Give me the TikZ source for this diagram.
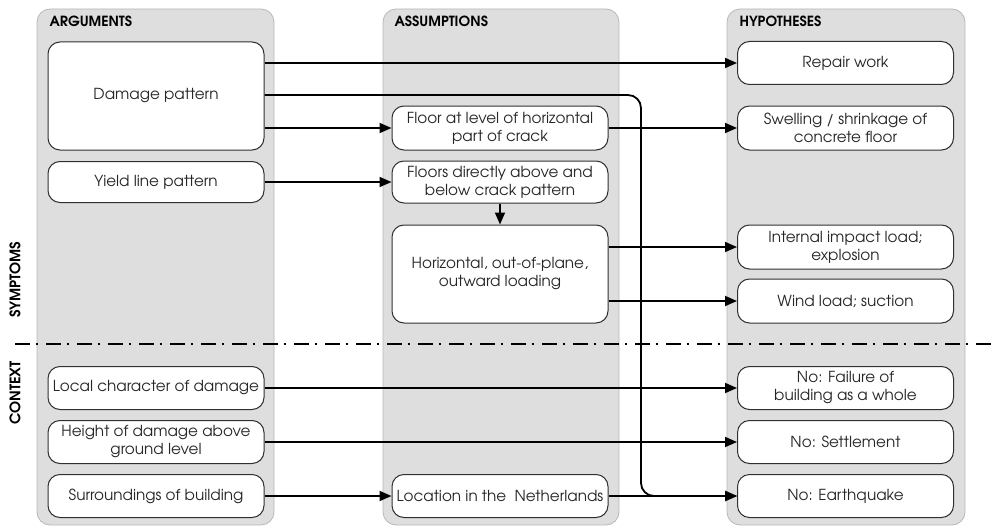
\documentclass[tikz,border=0pt]{standalone}
\usepackage{fontspec}
\setmainfont{TeX Gyre Adventor}
\usetikzlibrary{arrows.meta}
\definecolor{panelfill}{HTML}{DEDEDE}
\definecolor{panelline}{HTML}{B8B8B8}
\definecolor{boxline}{HTML}{303030}
\definecolor{txt}{HTML}{262626}
\begin{document}
\begin{tikzpicture}[x=1pt,y=-1pt,
  panel/.style={draw=panelline, fill=panelfill, rounded corners=13pt, line width=0.8pt},
  box/.style={draw=boxline, fill=white, rounded corners=12pt, line width=1pt,
    align=center, inner sep=2pt, text=txt, minimum width=216pt,
    font=\fontsize{15.2}{18}\selectfont},
  title/.style={anchor=west, font=\bfseries\fontsize{14}{16}\selectfont},
  side/.style={rotate=90, font=\bfseries\fontsize{14.5}{16}\selectfont},
  link/.style={line width=1.8pt, -{Triangle[length=12pt,width=10pt]}},
  sep/.style={line width=1.6pt, dash pattern=on 15pt off 5.5pt on 2.5pt off 8pt},
]
\useasboundingbox (0,0) rectangle (991,527);

% column panels
\draw[panel] (37,9) rectangle (274,525);
\draw[panel] (383,9) rectangle (619,525);
\draw[panel] (727,9) rectangle (965,525);
\node[title] (targ) at (46,21) {ARGUMENTS};
\node[title] (tass) at (391,21) {ASSUMPTIONS};
\node[title] (thyp) at (736,21) {HYPOTHESES};

% row labels and separator
\node[side] (symp) at (15,280) {SYMPTOMS};
\node[side] (ctx) at (15,393) {CONTEXT};
\coordinate (sepl) at (15,344);
\coordinate (sepr) at (991,344);
\draw[sep] (sepl) -- (sepr);

% arguments
\node[box, minimum height=108pt] (damage) at (156,96) {Damage pattern};
\node[box, minimum height=41pt] (yield) at (156,182) {Yield line pattern};
\node[box, minimum height=43pt] (local) at (156,388) {Local character of damage};
\node[box, minimum height=43pt] (height) at (156,442) {Height of damage above\\ground level};
\node[box, minimum height=43pt] (surr) at (156,496) {Surroundings of building};

% assumptions
\node[box, minimum height=44pt] (floorlvl) at (500,128) {Floor at level of horizontal\\part of crack};
\node[box, minimum height=42pt] (floorsdir) at (500,182) {Floors directly above and\\below crack pattern};
\node[box, minimum height=98pt] (horiz) at (500,274) {Horizontal, out-of-plane,\\outward loading};
\node[box, minimum height=43pt] (location) at (500,496) {Location in the~ Netherlands};

% hypotheses
\node[box, minimum height=43pt] (repair) at (845.5,63) {Repair work};
\node[box, minimum height=44pt] (swelling) at (845.5,128) {Swelling / shrinkage of\\concrete floor};
\node[box, minimum height=44pt] (internal) at (845.5,247) {Internal impact load;\\explosion};
\node[box, minimum height=44pt] (wind) at (845.5,301) {Wind load; suction};
\node[box, minimum height=43pt] (failure) at (845.5,388) {No: Failure of\\building as a whole};
\node[box, minimum height=43pt] (settle) at (845.5,442) {No: Settlement};
\node[box, minimum height=43pt] (quake) at (845.5,496) {No: Earthquake};

% connectors
\coordinate (bend) at (641,0);
\draw[link] (damage.east |- repair.west) -- (repair.west);
\draw[link] (damage.east |- floorlvl.west) -- (floorlvl.west);
\draw[link, rounded corners=13pt] ([yshift=1pt]damage.east) -- ([yshift=1pt]damage.east -| bend) -- (bend |- quake.west) -- (quake.west);
\draw[link] (yield.east) -- (floorsdir.west);
\draw[link] (floorsdir.south) -- (horiz.north);
\draw[link] (floorlvl.east) -- (swelling.west);
\draw[link] (horiz.east |- internal.west) -- (internal.west);
\draw[link] (horiz.east |- wind.west) -- (wind.west);
\draw[link] (local.east) -- (failure.west);
\draw[link] (height.east) -- (settle.west);
\draw[link] (surr.east) -- (location.west);
\draw[link] (location.east) -- (quake.west);
\end{tikzpicture}
\end{document}
